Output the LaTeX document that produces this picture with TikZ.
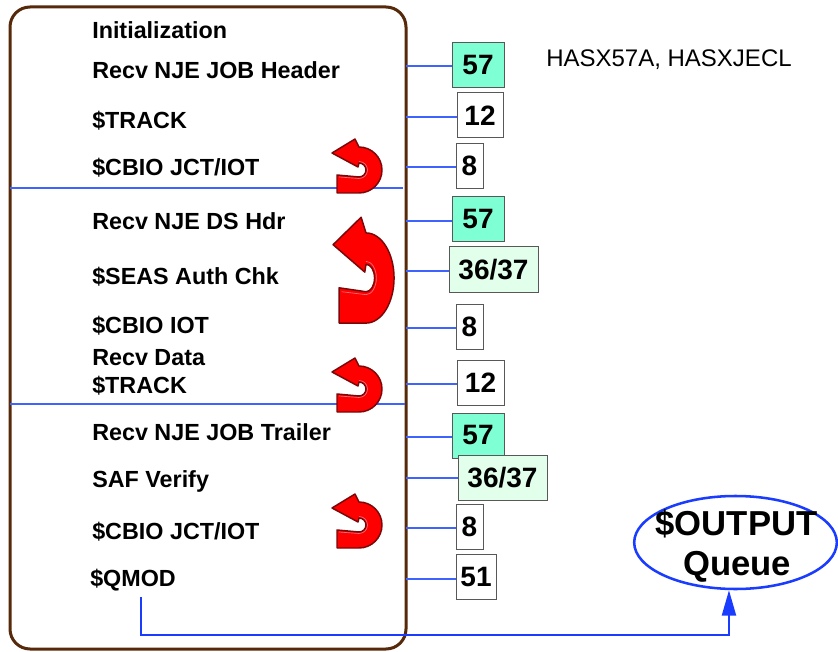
\documentclass[tikz,border=0pt]{standalone}
\usepackage{fontspec}
\setmainfont{Liberation Sans}
\usetikzlibrary{shapes.geometric,arrows.meta}
\definecolor{frameBrown}{HTML}{55290A}
\definecolor{sepBlue}{HTML}{3F63FF}
\definecolor{linkBlue}{HTML}{1A3CFF}
\definecolor{aquaBox}{HTML}{7FFFD4}
\definecolor{mintBox}{HTML}{E2FFEC}
\definecolor{boxGray}{HTML}{585858}
\definecolor{arrowRed}{HTML}{FF0000}
\definecolor{arrowEdge}{HTML}{7A0808}
\definecolor{arrowPink}{HTML}{F07080}
\tikzset{
  rowtext/.style={anchor=base west, inner sep=0, font=\bfseries\fontsize{17.5}{20}\selectfont},
  numbox/.style={draw=boxGray, line width=0.75pt, minimum height=33.75pt, inner sep=0,
    font=\bfseries\fontsize{21}{24}\selectfont},
  tick/.style={draw=sepBlue, line width=1pt},
  sepline/.style={draw=sepBlue, line width=1pt},
  bigtext/.style={anchor=base, inner sep=0, font=\bfseries\fontsize{26}{30}\selectfont},
  qlink/.style={draw=linkBlue, line width=1.6pt, -{Triangle[length=19pt,width=10.5pt]}},
  uturn/.pic={\filldraw[fill=arrowRed, draw=arrowEdge, line width=1.1pt, line join=round]
    (-22,-5) -- (0,-7) arc[start angle=270,end angle=450,radius=7] -- (-1,3) -- (-27,17)
    -- (-4,31) -- (0,23) arc[start angle=90,end angle=-90,radius=23] -- (-22,-23) -- cycle;
    \draw[arrowPink, line width=0.5pt] (-20,-7) -- (0,-8.5) arc[start angle=270,end angle=450,radius=8.5];}
}
\begin{document}
\begin{tikzpicture}[x=0.75pt,y=-0.75pt]
\useasboundingbox (0,0) rectangle (838,652);
% frame
\node[draw=frameBrown, line width=2.25pt, rounded corners=15pt, minimum width=297pt,
  minimum height=481.5pt, inner sep=0, outer sep=0] (frame) at (208,328) {};
% separators
\draw[sepline] (10,188) -- (403,188);
\draw[sepline] (10,404) -- (405,404);
% row texts
\node[rowtext] (t1) at (92,39) {Initialization};
\node[rowtext] (t2) at (92,79) {Recv NJE JOB Header};
\node[rowtext] (t3) at (92,129) {\$TRACK};
\node[rowtext] (t4) at (92,176) {\$CBIO JCT/IOT};
\node[rowtext] (t5) at (92,230) {Recv NJE DS Hdr};
\node[rowtext] (t6) at (92,284) {\$SEAS Auth Chk};
\node[rowtext] (t7) at (92,333) {\$CBIO IOT};
\node[rowtext] (t8) at (92,365) {Recv Data};
\node[rowtext] (t9) at (92,393) {\$TRACK};
\node[rowtext] (t10) at (92,440) {Recv NJE JOB Trailer};
\node[rowtext] (t11) at (92,487) {SAF Verify};
\node[rowtext] (t12) at (92,539) {\$CBIO JCT/IOT};
\node[rowtext] (t13) at (90,586) {\$QMOD};
% u-turn arrows
\pic[yscale=-1] at (359,170) {uturn};
\pic[xscale=1.22,yscale=-1.96] at (366,278) {uturn};
\pic[yscale=-1] at (359,389) {uturn};
\pic[yscale=-1] at (359,525) {uturn};
% boxes
\node[numbox, fill=aquaBox, minimum width=39pt] (b1) at (478,65.5) {57};
\node[numbox, fill=white, minimum width=34.5pt] (b2) at (480,115.5) {12};
\node[numbox, fill=white, minimum width=20.25pt] (b3) at (469.5,166) {8};
\node[numbox, fill=aquaBox, minimum width=39pt] (b4) at (478,219.5) {57};
\node[numbox, fill=mintBox, minimum width=66.75pt] (b5) at (493.5,269.5) {36/37};
\node[numbox, fill=white, minimum width=20.25pt] (b6) at (469.5,326.5) {8};
\node[numbox, fill=white, minimum width=35.25pt] (b7) at (480.5,383) {12};
\node[numbox, fill=aquaBox, minimum width=39pt] (b8) at (478,435.5) {57};
\node[numbox, fill=mintBox, minimum width=66.75pt] (b9) at (502.5,477.5) {36/37};
\node[numbox, fill=white, minimum width=20.25pt] (b10) at (469.5,527) {8};
\node[numbox, fill=white, minimum width=30pt] (b11) at (476,577) {51};
% ticks from frame to boxes
\foreach \bx/\yy in {b1/66,b2/117,b3/167,b4/221,b5/271,b6/328,b7/384,b8/437,b9/478,b10/528,b11/579}
  \draw[tick] (frame.east |- 0,\yy) -- (\bx.west |- 0,\yy);
% module note
\node[anchor=base west, inner sep=0, font=\fontsize{18}{20}\selectfont] (hasx) at (546,67) {HASX57A, HASXJECL};
% output queue
\node[ellipse, draw=linkBlue, line width=1.9pt, minimum width=152pt, minimum height=69.75pt,
  inner sep=0] (out) at (735.5,542.5) {};
\node[bigtext] (outa) at (736.5,535) {\$OUTPUT};
\node[bigtext] (outb) at (737,575) {Queue};
% qmod link
\coordinate (qs) at (141,597);
\draw[qlink] (qs) -- ++(0,38) -| ([xshift=-4.9pt]out.south);
\end{tikzpicture}
\end{document}
